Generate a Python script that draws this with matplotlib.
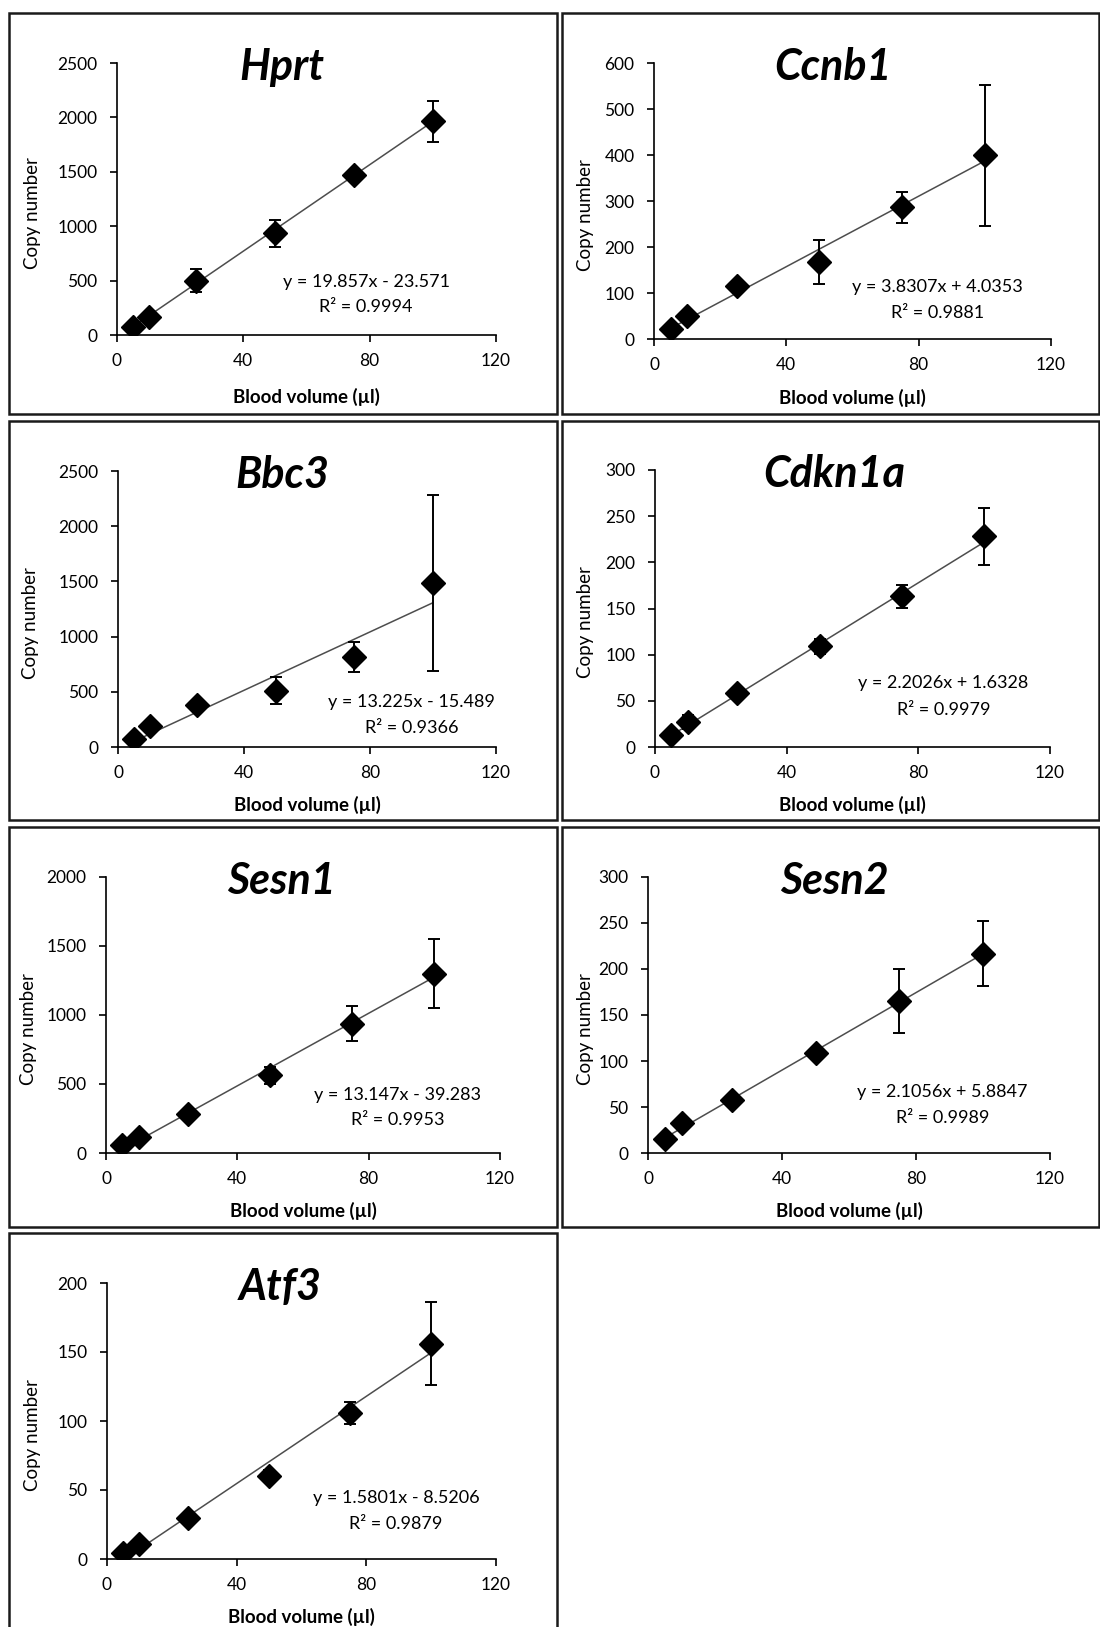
import numpy as np
import matplotlib.pyplot as plt
import matplotlib.patches as patches

plt.rcParams['font.family'] = ['Lato', 'DejaVu Sans']

# Blood volume (ul) used for every gene
volume = [5, 10, 25, 50, 75, 100]

# Copy number means and error bars
hprt = [70, 168, 498, 933, 1468, 1963]
hprt_err = [15, 20, 105, 120, 20, 185]
ccnb1 = [22, 49, 116, 168, 286, 399]
ccnb1_err = [4, 6, 8, 48, 34, 154]
bbc3 = [75, 190, 377, 510, 815, 1486]
bbc3_err = [15, 25, 30, 125, 138, 800]
cdkn1a = [13, 27, 58.5, 109, 163, 228]
cdkn1a_err = [2, 8, 4, 8, 12, 31]
sesn1 = [56, 116, 285, 563, 937, 1300]
sesn1_err = [10, 20, 25, 60, 125, 250]
sesn2 = [15.6, 32.6, 58, 108.7, 165, 216.7]
sesn2_err = [2, 5, 3, 3, 35, 35]
atf3 = [4, 11, 29.4, 60.3, 106, 156]
atf3_err = [1, 2, 2, 4, 8, 30]

genes = ['Hprt', 'Ccnb1', 'Bbc3', 'Cdkn1a', 'Sesn1', 'Sesn2', 'Atf3']
means = [hprt, ccnb1, bbc3, cdkn1a, sesn1, sesn2, atf3]
errors = [hprt_err, ccnb1_err, bbc3_err, cdkn1a_err, sesn1_err, sesn2_err, atf3_err]

# linear trend lines as printed on the chart
slopes = [19.857, 3.8307, 13.225, 2.2026, 13.147, 2.1056, 1.5801]
intercepts = [-23.571, 4.0353, -15.489, 1.6328, -39.283, 5.8847, -8.5206]
r_squared = [0.9994, 0.9881, 0.9366, 0.9979, 0.9953, 0.9989, 0.9879]

y_max = [2500, 600, 2500, 300, 2000, 300, 200]
y_step = [500, 100, 500, 50, 500, 50, 50]
x_ticks = [0, 40, 80, 120]

W, H = 1100, 1627
fig = plt.figure(figsize=(W / 100, H / 100), dpi=100)

# axes boxes in pixels: left, right, y of zero, y of top
axes_px = [
    (117, 496, 335, 63),
    (654, 1051, 339, 63),
    (118, 496, 747, 471),
    (655, 1050, 747, 470),
    (106, 500, 1153, 877),
    (648, 1050, 1153, 877),
    (107, 496, 1559, 1283),
]
# panel frames in pixels: left, top, right, bottom
frames_px = [
    (9, 13, 557, 414), (562, 13, 1099, 414),
    (9, 421, 557, 820), (562, 421, 1099, 820),
    (9, 827, 557, 1227), (562, 827, 1099, 1227),
    (9, 1233, 557, 1660),
]
# right edge of the rotated y label, in pixels
ylabel_px = [41, 594, 39, 594, 37, 594, 41]
# top of the x label, in axes fraction
xlabel_y = [-0.195, -0.18, -0.178, -0.178, -0.178, -0.178, -0.178]
# equation label spot in axes fraction: x, y of equation, y of R^2
eq_pos = [
    (0.657, 0.195, 0.103), (0.714, 0.188, 0.094),
    (0.776, 0.162, 0.068), (0.73, 0.23, 0.133),
    (0.74, 0.209, 0.118), (0.733, 0.221, 0.127),
    (0.743, 0.221, 0.127),
]
title_x = [0.435, 0.45, 0.435, 0.455, 0.446, 0.464, 0.445]

for (l, t, r, b) in frames_px:
    rect = patches.Rectangle((l / W, 1 - b / H), (r - l) / W, (b - t) / H,
                             transform=fig.transFigure, fill=False,
                             edgecolor='#1a1a1a', linewidth=1.8)
    fig.patches.append(rect)

for i, gene in enumerate(genes):
    l, r, y0, yt = axes_px[i]
    ax = fig.add_axes([l / W, 1 - y0 / H, (r - l) / W, (y0 - yt) / H])

    ax.errorbar(volume, means[i], yerr=errors[i], fmt='none', ecolor='black',
                elinewidth=1.4, capsize=4, capthick=1.4, zorder=2)
    ax.plot(volume, means[i], linestyle='none', marker='D', markersize=12,
            color='black', zorder=3)

    fit_x = np.array([volume[0], volume[-1]])
    ax.plot(fit_x, slopes[i] * fit_x + intercepts[i], color='#4d4d4d',
            linewidth=1.1, zorder=1)

    ax.set_xlim(0, 120)
    ax.set_ylim(0, y_max[i])
    ax.set_xticks(x_ticks)
    ax.set_yticks(np.arange(0, y_max[i] + 1, y_step[i]))
    for side in ['top', 'right']:
        ax.spines[side].set_visible(False)
    for side in ['left', 'bottom']:
        ax.spines[side].set_linewidth(1.2)
    ax.tick_params(axis='both', direction='out', length=5, width=1.2,
                   labelsize=12.5)
    ax.tick_params(axis='x', pad=8)
    ax.tick_params(axis='y', pad=9)
    ax.set_facecolor('none')

    ax.set_xlabel('Blood volume (\u00b5l)', fontsize=13.5, fontweight='bold')
    ax.xaxis.set_label_coords(0.5, xlabel_y[i])
    ax.set_ylabel('Copy number', fontsize=13.5)
    ax.yaxis.set_label_coords((ylabel_px[i] - l) / (r - l), 0.45)

    ax.text(title_x[i], 0.985, gene, transform=ax.transAxes, ha='center',
            va='center', fontsize=31, fontweight='bold', fontstyle='italic')

    sign = '+' if intercepts[i] >= 0 else '-'
    ex, ey, ry = eq_pos[i]
    ax.text(ex, ey, f'y = {slopes[i]}x {sign} {abs(intercepts[i])}',
            transform=ax.transAxes, ha='center', va='center', fontsize=13)
    ax.text(ex, ry, f'R\u00b2 = {r_squared[i]:.4f}', transform=ax.transAxes,
            ha='center', va='center', fontsize=13)

fig.savefig('out.png', dpi=100, facecolor='white')
